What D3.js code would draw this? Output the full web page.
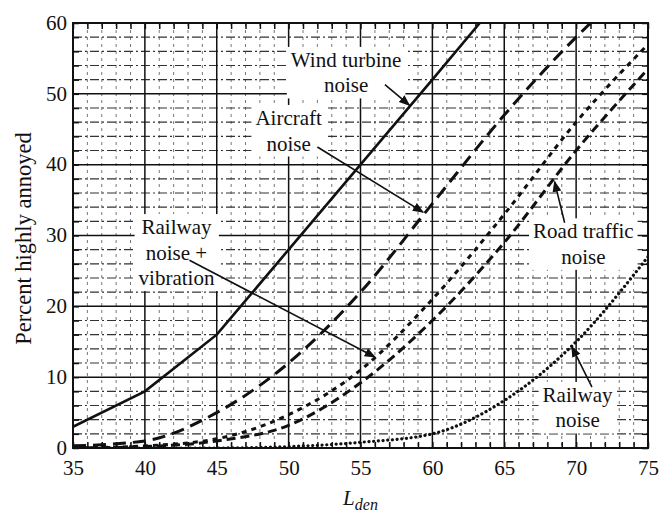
<!DOCTYPE html>
<html>
<head>
<meta charset="utf-8">
<script src="https://cdn.jsdelivr.net/npm/d3@7"></script>
<style>
  body { margin: 0; background: #fff; }
  svg text { font-family: "Liberation Serif", "DejaVu Serif", "Noto Serif", Tinos, Times, serif !important; fill: #111; }
</style>
</head>
<body>
<svg id="chart"></svg>
<script>
// data
const xTicks = [35, 40, 45, 50, 55, 60, 65, 70, 75];
const yTicks = [0, 10, 20, 30, 40, 50, 60];

const windX = [35, 40, 45, 50, 55, 60, 63.3];
const windY = [3, 8, 16, 28, 40, 52, 60];

const aircraftX = [35, 40, 45, 50, 55, 60, 65, 70, 71];
const aircraftY = [0.3, 1, 5, 12, 22, 34.5, 47, 58, 60];

const lden = [35, 40, 45, 50, 55, 60, 65, 70, 75];
const railVibY = [0, 0.3, 1.3, 4.7, 11, 21, 33, 46, 57];
const roadY = [0, 0.2, 1, 3.2, 9.2, 18, 29, 42, 53.5];
const railwayY = [0, 0, 0, 0.2, 0.8, 2, 6.7, 15, 27];

const width = 660, height = 512;
const margin = {top: 23, right: 12, bottom: 64, left: 73};

const svg = d3.select("#chart")
  .attr("width", width)
  .attr("height", height);

const x = d3.scaleLinear().domain([35, 75]).range([margin.left, width - margin.right]);
const y = d3.scaleLinear().domain([0, 60]).range([height - margin.bottom, margin.top]);

const grid = svg.append("g");

// minor grid
grid.selectAll(".vminor")
  .data(d3.range(36, 75).filter(d => d % 5 !== 0))
  .enter().append("line")
    .attr("x1", d => x(d)).attr("x2", d => x(d))
    .attr("y1", y(60)).attr("y2", y(0))
    .attr("stroke", "#777").attr("stroke-width", 1)
    .attr("stroke-dasharray", "3,4");

grid.selectAll(".hminor")
  .data(d3.range(2, 60, 2).filter(d => d % 10 !== 0))
  .enter().append("line")
    .attr("x1", x(35)).attr("x2", x(75))
    .attr("y1", d => y(d)).attr("y2", d => y(d))
    .attr("stroke", "#333").attr("stroke-width", 1.2)
    .attr("stroke-dasharray", "9,3,2,3");

// major grid
grid.selectAll(".vmajor")
  .data(xTicks)
  .enter().append("line")
    .attr("x1", d => x(d)).attr("x2", d => x(d))
    .attr("y1", y(60)).attr("y2", y(0))
    .attr("stroke", "#111").attr("stroke-width", 1.5);

grid.selectAll(".hmajor")
  .data(yTicks)
  .enter().append("line")
    .attr("x1", x(35)).attr("x2", x(75))
    .attr("y1", d => y(d)).attr("y2", d => y(d))
    .attr("stroke", "#111").attr("stroke-width", 1.5);

// inward ticks on all four sides
const minorX = d3.range(35, 76, 1);
const minorY = d3.range(0, 61, 2);
svg.append("g")
  .attr("transform", `translate(0,${y(0)})`)
  .call(d3.axisTop(x).tickValues(minorX).tickSize(6).tickFormat(""))
  .call(g => g.select(".domain").remove());
svg.append("g")
  .attr("transform", `translate(0,${y(60)})`)
  .call(d3.axisBottom(x).tickValues(minorX).tickSize(6).tickFormat(""))
  .call(g => g.select(".domain").remove());
svg.append("g")
  .attr("transform", `translate(${x(35)},0)`)
  .call(d3.axisRight(y).tickValues(minorY).tickSize(6).tickFormat(""))
  .call(g => g.select(".domain").remove());
svg.append("g")
  .attr("transform", `translate(${x(75)},0)`)
  .call(d3.axisLeft(y).tickValues(minorY).tickSize(6).tickFormat(""))
  .call(g => g.select(".domain").remove());
svg.selectAll(".tick line").attr("stroke", "#111").attr("stroke-width", 1.5);

// tick labels
svg.append("g")
  .attr("transform", `translate(0,${y(0)})`)
  .call(d3.axisBottom(x).tickValues(xTicks).tickSize(0).tickPadding(12))
  .call(g => g.select(".domain").remove())
  .selectAll("text")
    .style("font-size", "21px")
    .attr("fill", "#111");

svg.append("g")
  .attr("transform", `translate(${x(35)},0)`)
  .call(d3.axisLeft(y).tickValues(yTicks).tickSize(0).tickPadding(6))
  .call(g => g.select(".domain").remove())
  .selectAll("text")
    .style("font-size", "21px")
    .attr("dy", "0.3em")
    .attr("fill", "#111");

// frame
svg.append("rect")
  .attr("x", x(35)).attr("y", y(60))
  .attr("width", x(75) - x(35)).attr("height", y(0) - y(60))
  .attr("fill", "none").attr("stroke", "#111").attr("stroke-width", 2);

// axis titles
svg.append("text")
  .attr("transform", `translate(23,${(y(0) + y(60)) / 2 + 3}) rotate(-90)`)
  .attr("text-anchor", "middle")
  .attr("dy", "0.35em")
  .style("font-size", "22.5px")
  .text("Percent highly annoyed");

const xt = svg.append("text")
  .attr("x", x(55))
  .attr("y", 505)
  .attr("text-anchor", "middle")
  .style("font-size", "21px")
  .style("font-style", "italic");
xt.append("tspan").text("L");
xt.append("tspan").attr("dy", 5).style("font-size", "16px").text("den");

// labels with white boxes, arrows
svg.append("defs").append("marker")
  .attr("id", "arrow")
  .attr("viewBox", "0 0 10 10")
  .attr("refX", 9).attr("refY", 5)
  .attr("markerWidth", 7).attr("markerHeight", 7)
  .attr("orient", "auto")
  .append("path")
    .attr("d", "M0,1 L10,5 L0,9 z")
    .attr("fill", "#111");

const labels = [
  {lines: ["Wind turbine", "noise"], at: [54.0, 53.8], from: [56.7, 51.3], to: [58.4, 48.4]},
  {lines: ["Aircraft", "noise"], at: [50.0, 45.6], from: [52.0, 42.5], to: [59.35, 33.3]},
  {lines: ["Railway", "noise +", "vibration"], at: [42.2, 30.2], from: [43.1, 26.5], to: [56.0, 12.85]},
  {lines: ["Road traffic", "noise"], at: [70.5, 29.6], from: [69.2, 31.8], to: [68.5, 37.6]},
  {lines: ["Railway", "noise"], at: [70.1, 6.5], from: [71.1, 8.6], to: [69.7, 14.3]}
];

const labelLayer = svg.append("g");
labels.forEach(l => {
  const g = labelLayer.append("g");
  const t = g.append("text")
    .attr("x", x(l.at[0]))
    .attr("y", y(l.at[1]))
    .attr("text-anchor", "middle")
    .style("font-size", "21px");
  l.lines.forEach((s, i) => {
    t.append("tspan").attr("x", x(l.at[0])).attr("dy", i === 0 ? 0 : 25.5).text(s);
  });
  const bb = t.node().getBBox();
  g.insert("rect", "text")
    .attr("x", bb.x - 4).attr("y", bb.y - 1)
    .attr("width", bb.width + 8).attr("height", bb.height + 2)
    .attr("fill", "#fff");
});

// curves
svg.append("clipPath").attr("id", "plotclip")
  .append("rect")
    .attr("x", x(35)).attr("y", y(60))
    .attr("width", x(75) - x(35)).attr("height", y(0) - y(60));

const series = [
  {xs: windX, ys: windY, dash: null, curve: d3.curveLinear, w: 2.6, cap: "butt"},
  {xs: aircraftX, ys: aircraftY, dash: "13,7", curve: d3.curveMonotoneX, w: 3, cap: "butt"},
  {xs: lden, ys: railVibY, dash: "5,5", curve: d3.curveMonotoneX, w: 3, cap: "butt"},
  {xs: lden, ys: roadY, dash: "9,5", curve: d3.curveMonotoneX, w: 3, cap: "butt"},
  {xs: lden, ys: railwayY, dash: "0.1,4.6", curve: d3.curveMonotoneX, w: 3.2, cap: "round"}
];

const curves = svg.append("g").attr("clip-path", "url(#plotclip)");
series.forEach(s => {
  const pts = s.xs.map((d, i) => [d, s.ys[i]]);
  const line = d3.line()
    .x(d => x(d[0]))
    .y(d => y(d[1]))
    .curve(s.curve);
  curves.append("path")
    .attr("d", line(pts))
    .attr("fill", "none")
    .attr("stroke", "#111")
    .attr("stroke-width", s.w)
    .attr("stroke-linecap", s.cap)
    .attr("stroke-dasharray", s.dash);
});

// leader lines on top
labels.forEach(l => {
  svg.append("line")
    .attr("x1", x(l.from[0])).attr("y1", y(l.from[1]))
    .attr("x2", x(l.to[0])).attr("y2", y(l.to[1]))
    .attr("stroke", "#111").attr("stroke-width", 1.6)
    .attr("marker-end", "url(#arrow)");
});
</script>
</body>
</html>
